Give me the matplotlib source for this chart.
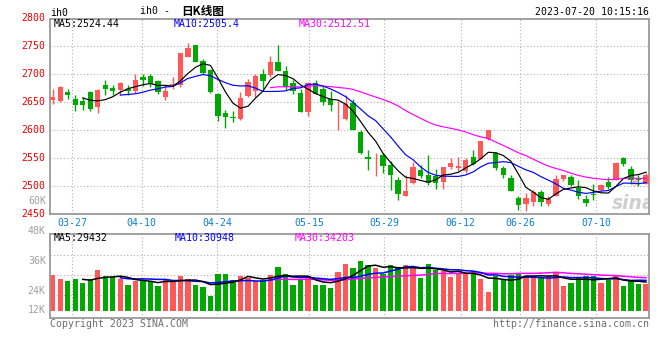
import numpy as np
import pandas as pd
import matplotlib
matplotlib.use("Agg")
import matplotlib.pyplot as plt

plt.rcParams['font.family'] = ['DejaVu Sans Mono', 'Noto Sans CJK SC']

# daily bars of ih0, one per trading day (index 0 = 2023-03-22)
opens = [2652.5, 2651.9, 2668.0, 2655.5, 2651.9, 2666.8, 2641.2, 2680.4, 2675.1, 2671.5,
         2672.7, 2669.1, 2694.7, 2696.5, 2687.6, 2658.4, 2679.2, 2679.8, 2729.2, 2751.8,
         2723.2, 2707.2, 2664.4, 2630.5, 2623.4, 2619.8, 2660.8, 2668.6, 2700.1, 2697.1,
         2720.9, 2704.8, 2682.8, 2665.6, 2631.1, 2683.4, 2673.3, 2654.9, 2622.2, 2619.8,
         2647.7, 2595.4, 2552.0, 2543.7, 2554.4, 2537.8, 2511.0, 2481.3, 2505.1, 2528.8,
         2519.9, 2517.0, 2506.3, 2534.2, 2531.2, 2526.3, 2550.4, 2548.5, 2583.5, 2558.6,
         2531.8, 2514.6, 2478.9, 2468.2, 2470.6, 2489.0, 2467.0, 2481.3, 2511.6, 2515.8,
         2496.1, 2477.1, 2486.0, 2493.2, 2506.3, 2511.0, 2549.2, 2530.0, 2514.6, 2503.9]
closes = [2657.9, 2676.9, 2661.4, 2643.6, 2643.6, 2637.6, 2671.5, 2672.1, 2669.7, 2684.0,
          2668.6, 2689.4, 2689.4, 2681.0, 2666.8, 2669.7, 2682.2, 2736.9, 2746.4, 2721.5,
          2701.8, 2668.0, 2624.0, 2622.2, 2621.0, 2657.3, 2684.6, 2696.5, 2686.4, 2720.9,
          2704.2, 2675.7, 2668.6, 2631.1, 2682.8, 2664.4, 2648.9, 2644.8, 2623.4, 2646.6,
          2600.2, 2558.0, 2547.9, 2544.9, 2536.0, 2519.9, 2484.3, 2490.2, 2534.2, 2518.1,
          2505.1, 2505.1, 2533.0, 2541.4, 2534.8, 2545.5, 2539.6, 2579.4, 2599.0, 2531.2,
          2519.9, 2490.2, 2465.2, 2478.9, 2488.4, 2470.6, 2476.5, 2512.8, 2518.7, 2500.9,
          2481.3, 2468.8, 2483.7, 2502.1, 2498.5, 2541.4, 2538.5, 2511.0, 2509.8, 2519.9]
highs = [2673.3, 2678.0, 2673.3, 2662.0, 2658.4, 2668.6, 2673.3, 2689.4, 2680.4, 2685.8,
         2679.8, 2700.1, 2698.9, 2700.1, 2688.0, 2679.2, 2694.1, 2737.5, 2755.4, 2752.0,
         2726.8, 2708.4, 2665.6, 2634.7, 2634.1, 2668.0, 2690.6, 2699.5, 2708.4, 2731.0,
         2751.8, 2714.3, 2688.8, 2673.3, 2685.2, 2689.4, 2678.7, 2669.7, 2650.7, 2662.0,
         2654.9, 2600.2, 2564.5, 2558.6, 2558.6, 2543.7, 2515.8, 2519.9, 2541.9, 2537.0,
         2555.6, 2530.0, 2533.5, 2549.8, 2551.0, 2549.8, 2564.5, 2580.6, 2600.2, 2561.0,
         2534.8, 2519.9, 2481.3, 2487.3, 2493.2, 2493.2, 2481.3, 2519.9, 2519.9, 2519.9,
         2511.0, 2483.1, 2503.9, 2503.9, 2515.2, 2542.0, 2550.4, 2534.8, 2519.9, 2522.9]
lows = [2646.6, 2650.0, 2654.9, 2632.9, 2635.9, 2634.1, 2630.5, 2662.6, 2661.4, 2662.6,
        2662.6, 2665.6, 2678.7, 2675.7, 2664.4, 2652.5, 2672.7, 2676.9, 2729.0, 2720.3,
        2699.5, 2665.6, 2615.0, 2602.6, 2613.3, 2618.0, 2658.4, 2658.4, 2673.3, 2694.1,
        2704.0, 2671.5, 2663.2, 2631.0, 2624.0, 2664.0, 2643.6, 2632.9, 2600.2, 2618.0,
        2600.0, 2557.5, 2528.8, 2517.0, 2522.9, 2493.2, 2475.3, 2481.0, 2503.9, 2513.0,
        2502.1, 2495.0, 2495.0, 2530.6, 2526.5, 2523.5, 2537.8, 2548.0, 2581.2, 2528.8,
        2513.4, 2490.0, 2456.3, 2454.5, 2464.6, 2463.5, 2463.5, 2481.0, 2508.1, 2499.0,
        2476.8, 2463.5, 2474.7, 2490.2, 2494.4, 2511.0, 2534.8, 2503.9, 2499.0, 2503.9]
volumes = [36560, 32460, 30410, 32460, 28700, 32460, 41690, 35540, 34850, 32460,
           26310, 30410, 31440, 30410, 25290, 32460, 30410, 35540, 32460, 26310,
           24260, 15380, 37590, 37590, 31440, 35540, 33490, 30410, 31440, 36560,
           44760, 37590, 26310, 32460, 35540, 26310, 26310, 23240, 39980, 47840,
           43740, 50910, 46810, 43740, 37590, 46810, 44760, 46810, 44760, 33830,
           47840, 41690, 40660, 34510, 37590, 37590, 40660, 32460, 19140, 35540,
           32460, 36560, 37590, 35540, 35540, 33490, 35540, 38610, 25290, 28360,
           33490, 35540, 35540, 28360, 31440, 36560, 25290, 30410, 27340, 27340]

date_ticks = ["03-27", "04-10", "04-24", "05-15", "05-29", "06-12", "06-26", "07-10"]
date_tick_pos = [2.57, 11.85, 21.92, 34.13, 44.15, 54.33, 62.22, 72.38]
price_grid = [2500, 2550, 2600, 2650, 2700, 2750]
price_labels = [2450, 2500, 2550, 2600, 2650, 2700, 2750, 2800]
vol_labels = ["48K", "36K", "24K", "12K"]
vol_label_pos = [1.039, 0.682, 0.329, 0.095]
vol_grid = [0.274, 0.512, 0.75]

RED = "#ff5858"
GREEN = "#02a802"
GRID = "#b0b0b0"
FRAME = "#9a9a9a"
BLUE_TXT = "#0a7fd6"
FS = 7.1

df = pd.DataFrame({"o": opens, "c": closes, "h": highs, "l": lows, "v": volumes})
x = np.arange(len(df))
up = df.c >= df.o
colors = np.where(up, RED, GREEN)

W, H = 660, 360
fig = plt.figure(figsize=(W / 100, H / 100), dpi=100)


def fx(px):
    return px / W


def fy(py):
    return 1 - py / H


ax = fig.add_axes([fx(50), fy(213.7), (649.3 - 50) / W, (213.7 - 19) / H])
axv = fig.add_axes([fx(50), fy(318.3), (649.3 - 50) / W, (318.3 - 234.3) / H])

for a in (ax, axv):
    a.set_xlim(-0.36, 79.44)
    for s in a.spines.values():
        s.set_color(FRAME)
        s.set_linewidth(1.3)
    a.set_xticks(date_tick_pos)
    a.tick_params(length=0)
    a.grid(True, axis="x", color=GRID, linestyle=(0, (1, 2)), linewidth=0.8)
    a.set_axisbelow(True)

# price panel
ax.set_ylim(2450, 2797.7)
ax.set_yticks(price_grid)
ax.set_yticklabels([])
ax.grid(True, axis="y", color=GRID, linestyle=(0, (1, 2)), linewidth=0.8)
ax.set_xticklabels(date_ticks, color=BLUE_TXT, fontsize=FS)
ax.tick_params(axis="x", pad=3.2)

# watermark behind the candles
ax.text(0.973, 0.05, "sina", transform=ax.transAxes, fontsize=13.5, va="center",
        ha="center", color="#cfcfcf", family="DejaVu Sans", style="italic",
        fontweight="bold", zorder=1, clip_on=True)
ax.text(0.975, 0.165, "\u25c9", transform=ax.transAxes, fontsize=7, va="center",
        ha="center", color="#f2b0b0", family="DejaVu Sans", zorder=1)

ax.vlines(x, df.l, df.h, colors=colors, linewidth=1.0, zorder=2)
body = np.maximum((df.c - df.o).abs(), 1.0)
ax.bar(x, body, bottom=np.minimum(df.o, df.c), width=0.72, color=colors,
       linewidth=0, zorder=3)

ma5 = df.c.rolling(5).mean()
ma10 = df.c.rolling(10).mean()
ma30 = df.c.rolling(30).mean()
ax.plot(x, ma30, color="#ff00ff", linewidth=0.85, zorder=4)
ax.plot(x, ma10, color="#0000ff", linewidth=0.85, zorder=4)
ax.plot(x, ma5, color="black", linewidth=0.85, zorder=4)

for p in price_labels:
    ax.text(-0.007, p, str(p), transform=ax.get_yaxis_transform(), ha="right",
            va="center", color="#f00000", fontsize=FS, clip_on=False)

# volume panel
axv.set_ylim(-7790, 78310)
axv.set_yticks([])
axv.set_xticklabels([])
for g in vol_grid:
    axv.plot([0, 1], [g, g], transform=axv.transAxes, color=GRID,
             linestyle=(0, (1, 2)), linewidth=0.8, zorder=0)
axv.bar(x, df.v, width=0.72, color=colors, linewidth=0, zorder=2)
vma5 = df.v.rolling(5).mean()
vma10 = df.v.rolling(10).mean()
vma30 = df.v.rolling(30).mean()
axv.plot(x, vma30, color="#ff00ff", linewidth=1.1, zorder=3)
axv.plot(x, vma10, color="#0000ff", linewidth=1.1, zorder=3)
axv.plot(x, vma5, color="black", linewidth=1.1, zorder=3)
for lab, f in zip(vol_labels, vol_label_pos):
    axv.text(-0.007, f, lab, transform=axv.transAxes, ha="right", va="center",
             color="#a0a0a0", fontsize=FS, clip_on=False)

# header and legend texts
fig.text(fx(50.5), fy(12.5), "ih0", fontsize=FS, va="center", ha="left")
fig.text(fx(140), fy(11), "ih0 -", fontsize=FS, va="center", ha="left")
fig.text(fx(181), fy(11), "日K线图", fontsize=8.4, va="center", ha="left",
         family=["Noto Sans CJK SC", "DejaVu Sans"], fontweight="bold")
fig.text(fx(649), fy(12), "2023-07-20 10:15:16", fontsize=FS, va="center", ha="right")
fig.text(fx(54), fy(24), "MA5:2524.44", fontsize=FS, va="center", color="black")
fig.text(fx(174), fy(24), "MA10:2505.4", fontsize=FS, va="center", color="#0000ff")
fig.text(fx(299), fy(24), "MA30:2512.51", fontsize=FS, va="center", color="#ff00ff")
fig.text(fx(54), fy(237.7), "MA5:29432", fontsize=FS, va="center", color="black")
fig.text(fx(174.5), fy(237.7), "MA10:30948", fontsize=FS, va="center", color="#0000ff")
fig.text(fx(294.5), fy(237.7), "MA30:34203", fontsize=FS, va="center", color="#ff00ff")
fig.text(fx(46), fy(201), "60K", fontsize=FS, va="center", ha="right", color="#a0a0a0")
fig.text(fx(50), fy(323.7), "Copyright 2023 SINA.COM", fontsize=FS, va="center",
         ha="left", color="#6e6e6e")
fig.text(fx(649), fy(323.7), "http://finance.sina.com.cn", fontsize=FS, va="center",
         ha="right", color="#6e6e6e")

fig.savefig("out.png", dpi=100)
